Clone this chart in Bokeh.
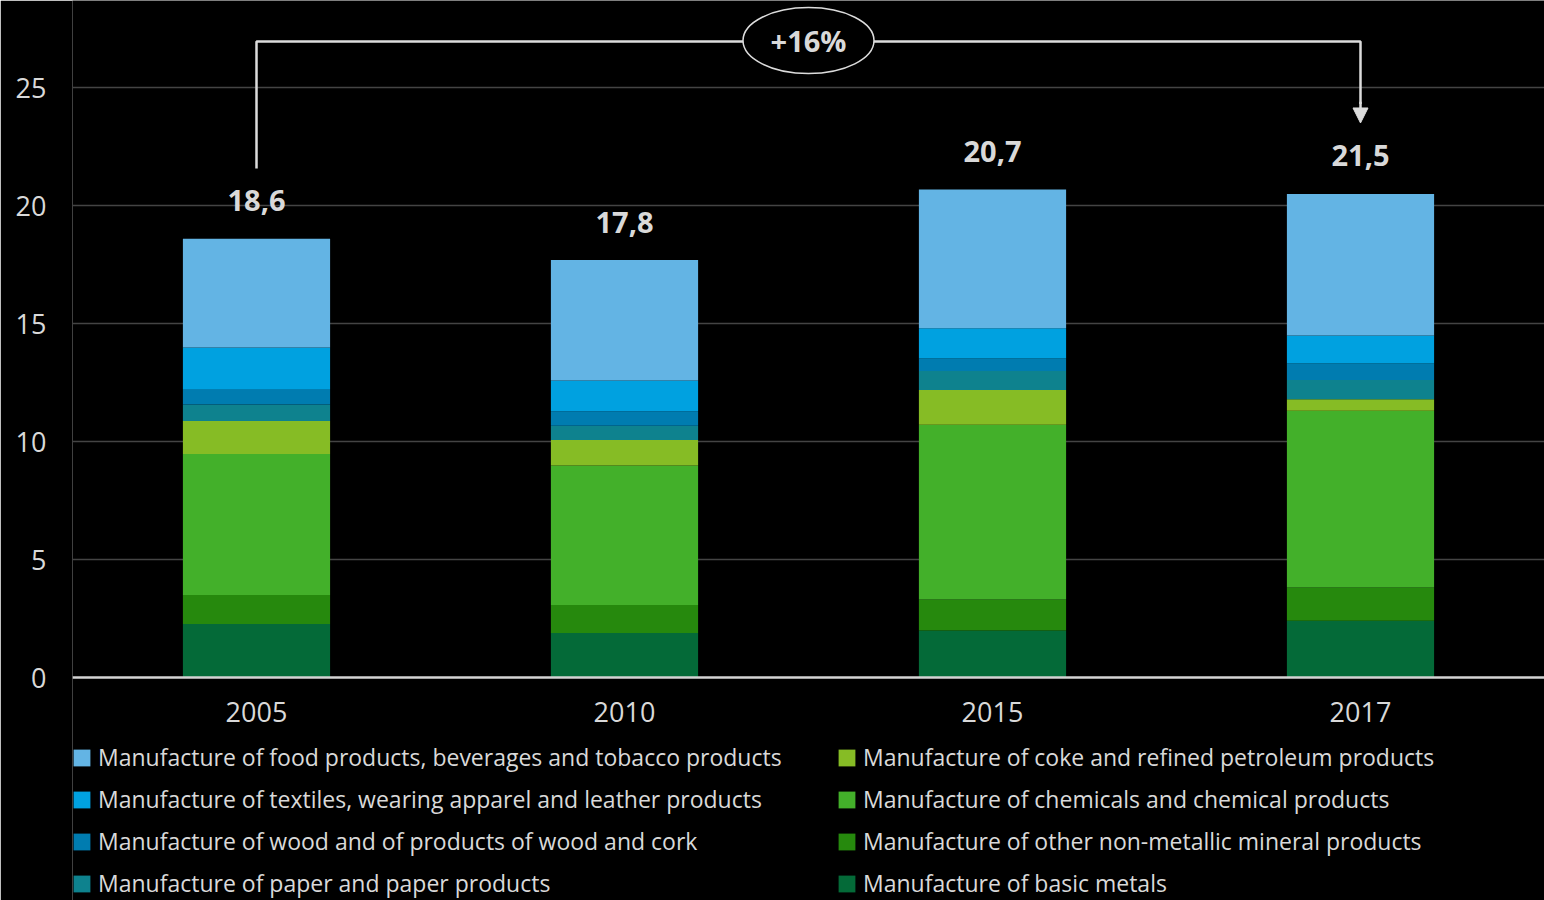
from bokeh.plotting import figure
from bokeh.models import (ColumnDataSource, Legend, LegendItem, Arrow, NormalHead,
                          Range1d, FactorRange, FixedTicker)
from bokeh.embed import file_html
from bokeh.resources import INLINE
from bokeh.core.properties import value

years = ["2005", "2010", "2015", "2017"]
total_labels = ["18,6", "17,8", "20,7", "21,5"]
growth_label = "+16%"

# stacked bottom -> top
basic_metals = [2.27, 1.89, 1.99, 2.40]
non_metallic = [1.23, 1.18, 1.32, 1.41]
chemicals = [5.97, 5.91, 7.40, 7.49]
coke = [1.40, 1.09, 1.47, 0.49]
paper = [0.70, 0.60, 0.81, 0.82]
wood = [0.62, 0.61, 0.53, 0.70]
textiles = [1.80, 1.31, 1.28, 1.18]
food = [4.60, 5.10, 5.88, 6.00]

series_keys = ["basic", "nonmet", "chem", "coke", "paper", "wood", "textiles", "food"]
series_names = [
    "Manufacture of basic metals",
    "Manufacture of other non-metallic mineral products",
    "Manufacture of chemicals and chemical products",
    "Manufacture of coke and refined petroleum products",
    "Manufacture of paper and paper products",
    "Manufacture of wood and of products of wood and cork",
    "Manufacture of textiles, wearing apparel and leather products",
    "Manufacture of food products, beverages and tobacco products",
]
series_colors = ["#046A38", "#26890D", "#43B02A", "#86BC25",
                 "#0E828E", "#007CB0", "#00A1E0", "#63B4E4"]

series_values = [basic_metals, non_metallic, chemicals, coke, paper, wood, textiles, food]
data = {"year": years, "label": total_labels}
for k, v in zip(series_keys, series_values):
    data[k] = v
data["total"] = [sum(vals) for vals in zip(*series_values)]
source = ColumnDataSource(data)

TEXT = "#d9d9d9"
FONT = "Open Sans"

p = figure(x_range=FactorRange(*years, range_padding=0),
           y_range=Range1d(-9.45, 28.69),
           width=1544, height=900,
           output_backend="svg", toolbar_location=None,
           background_fill_color="black", border_fill_color="black",
           outline_line_color=None,
           min_border_left=72, min_border_right=0, min_border_top=0, min_border_bottom=0)

renderers = p.vbar_stack(series_keys, x="year", width=0.4, color=series_colors,
                         line_color=None, source=source)

# axes
p.yaxis.ticker = FixedTicker(ticks=[0, 5, 10, 15, 20, 25])
p.yaxis.axis_line_color = None
p.yaxis.major_tick_line_color = None
p.yaxis.minor_tick_line_color = None
p.yaxis.major_tick_out = 0
p.yaxis.major_label_standoff = 26
p.yaxis.major_label_text_font = FONT
p.yaxis.major_label_text_font_size = "27px"
p.yaxis.major_label_text_color = TEXT

p.xaxis.fixed_location = 0
p.xaxis.axis_line_color = "#d4d4d4"
p.xaxis.axis_line_width = 2.5
p.xaxis.major_tick_line_color = None
p.xaxis.minor_tick_line_color = None
p.xaxis.major_tick_out = 0
p.xaxis.major_label_standoff = 24
p.xaxis.major_label_text_font = FONT
p.xaxis.major_label_text_font_size = "27px"
p.xaxis.major_label_text_color = TEXT

p.xgrid.grid_line_color = None
p.ygrid.ticker = FixedTicker(ticks=[5, 10, 15, 20, 25])
p.ygrid.grid_line_color = "#444444"
p.ygrid.grid_line_width = 1.5

# total labels
p.text(x="year", y="total", text="label", source=source, y_offset=-38,
       text_align="center", text_baseline="alphabetic",
       text_font=value(FONT), text_font_style="bold", text_font_size="29px",
       text_color=TEXT)

# growth bracket
p.line(x=[0.5, 0.5, 3.5, 3.5], y=[21.57, 26.95, 26.95, 24.3],
       line_color="#dcdcdc", line_width=2.5)
p.add_layout(Arrow(end=NormalHead(size=15, fill_color="#dcdcdc", line_color="#dcdcdc"),
                   x_start=3.5, y_start=24.4, x_end=3.5, y_end=23.5,
                   line_color="#dcdcdc", line_width=2.5))
p.ellipse(x=[2.0], y=[26.99], width=[131], height=[66], width_units="screen",
          height_units="screen", fill_color="black", line_color="#dcdcdc", line_width=1.5)
p.text(x=[2.0], y=[26.99], text=[growth_label], text_align="center",
       text_baseline="middle", text_font=value(FONT), text_font_style="bold",
       text_font_size="29px", text_color=TEXT)

# legend: column-major order top->bottom
order = [7, 6, 5, 4, 3, 2, 1, 0]
items = [LegendItem(label=series_names[i], renderers=[renderers[i]]) for i in order]
legend = Legend(items=items, ncols=2, orientation="vertical", location=(-1, 1),
                glyph_width=21, glyph_height=21, label_standoff=6, spacing=10,
                label_width=728, padding=0, margin=0,
                background_fill_alpha=0, border_line_color=None,
                label_text_color=TEXT, label_text_font=FONT, label_text_font_size="23px")
p.add_layout(legend, "center")

open("out.html", "w").write(file_html(p, INLINE))
